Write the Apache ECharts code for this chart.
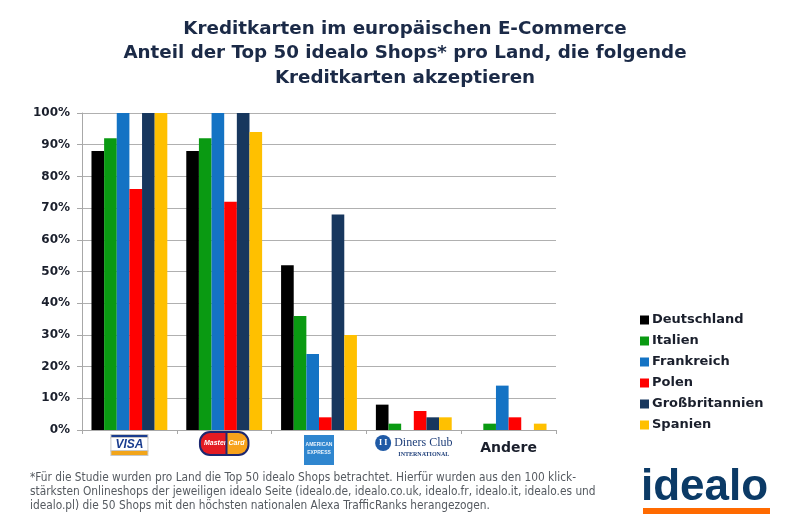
<!DOCTYPE html>
<html>
<head>
<meta charset="utf-8">
<script src="https://cdn.jsdelivr.net/npm/echarts@6/dist/echarts.min.js"></script>
<style>html,body{margin:0;padding:0;background:#fff}#c{width:800px;height:530px}</style>
</head>
<body>
<div id="c"></div>
<script>
const categories = ['VISA', 'MasterCard', 'American Express', 'Diners Club', 'Andere'];
const countries = ['Deutschland', 'Italien', 'Frankreich', 'Polen', 'Großbritannien', 'Spanien'];
const deutschland = [88, 88, 52, 8, 0];
const italien = [92, 92, 36, 2, 2];
const frankreich = [100, 100, 24, 0, 14];
const polen = [76, 72, 4, 6, 4];
const grossbritannien = [100, 100, 68, 4, 0];
const spanien = [100, 94, 30, 4, 2];
const yTicks = [0, 10, 20, 30, 40, 50, 60, 70, 80, 90, 100];

const seriesValues = [deutschland, italien, frankreich, polen, grossbritannien, spanien];
const colors = ['#000000', '#0a9a12', '#1473c4', '#ff0000', '#17375e', '#ffc000'];

const titleColor = '#1b2a47';
const wideFont = '"DejaVu Sans", "Noto Sans", sans-serif';
const chart = echarts.init(document.getElementById('c'), null, {renderer: 'canvas'});

const labelFormatter = function (v) {
  if (v === 'VISA') return '{vt|}\n{v|VISA}\n{vb|}';
  if (v === 'MasterCard') return '{mr|Master}{mo|Card}';
  if (v === 'American Express') return '{at|}\n{a|AMERICAN}\n{a|EXPRESS}\n{ab|}';
  if (v === 'Diners Club') return '{dc|I I}{d| Diners Club}\n{ds|}{di|INTERNATIONAL}';
  return '{n|Andere}';
};

chart.setOption({
  backgroundColor: '#ffffff',
  animation: false,
  color: colors,
  title: {
    text: 'Kreditkarten im europäischen E-Commerce\nAnteil der Top 50 idealo Shops* pro Land, die folgende\nKreditkarten akzeptieren',
    left: 400,
    top: 12,
    textAlign: 'center',
    textStyle: {
      fontFamily: wideFont,
      fontSize: 18.3,
      fontWeight: 'bold',
      color: titleColor,
      lineHeight: 24.5
    }
  },
  grid: {left: 82, right: 244, top: 113, bottom: 100, containLabel: false},
  legend: {
    orient: 'vertical',
    left: 640,
    top: 312,
    padding: 0,
    icon: 'rect',
    itemWidth: 9,
    itemHeight: 9,
    itemGap: 5,
    data: countries,
    textStyle: {
      fontFamily: wideFont,
      fontSize: 13,
      fontWeight: 'bold',
      color: '#1a1f2c',
      lineHeight: 16,
      padding: [0, 0, 0, -2]
    }
  },
  xAxis: {
    type: 'category',
    data: categories,
    axisLine: {lineStyle: {color: '#a8a8a8', width: 1}},
    axisTick: {show: true, length: 4, lineStyle: {color: '#a8a8a8'}},
    axisLabel: {
      margin: 5,
      interval: 0,
      verticalAlign: 'top',
      formatter: labelFormatter,
      rich: {
        vt: {width: 36, height: 3, backgroundColor: '#1a3d8f', borderColor: '#c8c8c8', borderWidth: 1},
        v: {width: 36, height: 13, lineHeight: 13, align: 'center', backgroundColor: '#ffffff', color: '#1a3d8f',
            fontFamily: 'Liberation Sans, Arial, sans-serif', fontWeight: 'bold', fontStyle: 'italic', fontSize: 12,
            borderColor: '#c8c8c8', borderWidth: 1},
        vb: {width: 36, height: 4, backgroundColor: '#f2a51a', borderColor: '#c8c8c8', borderWidth: 1},
        mr: {height: 17, lineHeight: 17, padding: [2, 1, 2, 3], backgroundColor: '#e41b23', color: '#ffffff',
             fontSize: 7, fontWeight: 'bold', fontStyle: 'italic', fontFamily: 'Liberation Sans, Arial, sans-serif',
             borderColor: '#1d2870', borderWidth: 2, borderRadius: [9, 0, 0, 9]},
        mo: {height: 17, lineHeight: 17, padding: [2, 3, 2, 1], backgroundColor: '#f7a21b', color: '#ffffff',
             fontSize: 7, fontWeight: 'bold', fontStyle: 'italic', fontFamily: 'Liberation Sans, Arial, sans-serif',
             borderColor: '#1d2870', borderWidth: 2, borderRadius: [0, 9, 9, 0]},
        at: {width: 30, height: 6, backgroundColor: '#2f86cf'},
        a: {width: 30, height: 8, lineHeight: 8, align: 'center', backgroundColor: '#2f86cf', color: '#e8f2fb',
            fontSize: 5, fontWeight: 'bold', fontFamily: '"Liberation Sans Narrow", Arial, sans-serif'},
        ab: {width: 30, height: 8, backgroundColor: '#2f86cf'},
        dc: {width: 16, height: 16, lineHeight: 16, align: 'center', backgroundColor: '#1f5aa6', borderRadius: 8,
             color: '#ffffff', fontSize: 8, fontWeight: 'bold', fontFamily: 'Liberation Serif, serif'},
        d: {color: '#1f3f7a', fontSize: 12, fontFamily: 'Liberation Serif, "DejaVu Serif", serif', lineHeight: 12},
        ds: {width: 20, height: 6},
        di: {color: '#1f3f7a', fontSize: 6, fontWeight: 'bold', fontFamily: 'Liberation Serif, serif', lineHeight: 6},
        n: {color: '#1a1f2c', fontSize: 14, fontWeight: 'bold', fontFamily: wideFont,
            padding: [6, 0, 0, 0]}
      }
    }
  },
  yAxis: {
    type: 'value',
    min: 0,
    max: 100,
    interval: 10,
    axisLine: {show: true, lineStyle: {color: '#a8a8a8', width: 1}},
    axisTick: {show: true, length: 5, lineStyle: {color: '#a8a8a8'}},
    splitLine: {lineStyle: {color: '#b0b0b0', width: 1}},
    axisLabel: {
      margin: 12,
      color: '#1a1f2c',
      fontFamily: wideFont,
      fontSize: 12,
      fontWeight: 'bold',
      formatter: function (v) { return yTicks.indexOf(v) >= 0 ? v + '%' : ''; }
    }
  },
  series: countries.map(function (name, i) {
    return {
      name: name,
      type: 'bar',
      data: seriesValues[i],
      barGap: '0%',
      barCategoryGap: '20%',
      itemStyle: {color: colors[i]}
    };
  }),
  graphic: [
    {
      type: 'text',
      left: 30,
      top: 471,
      style: {
        text: '*Für die Studie wurden pro Land die Top 50 idealo Shops betrachtet. Hierfür wurden aus den 100 klick-\nstärksten Onlineshops der jeweiligen idealo Seite (idealo.de, idealo.co.uk, idealo.fr, idealo.it, idealo.es und\nidealo.pl) die 50 Shops mit den höchsten nationalen Alexa TrafficRanks herangezogen.',
        font: '11.8px "Liberation Sans Narrow", "DejaVu Sans Condensed", sans-serif',
        fill: '#555a60',
        lineHeight: 14
      }
    },
    {
      type: 'text',
      left: 641,
      top: 466,
      style: {
        text: 'idealo',
        font: 'bold 44px "Liberation Sans", Arial, sans-serif',
        fill: '#0b3a66'
      }
    },
    {
      type: 'rect',
      shape: {x: 643, y: 508, width: 127, height: 6},
      style: {fill: '#ff6a00'}
    }
  ]
});
</script>
</body>
</html>
